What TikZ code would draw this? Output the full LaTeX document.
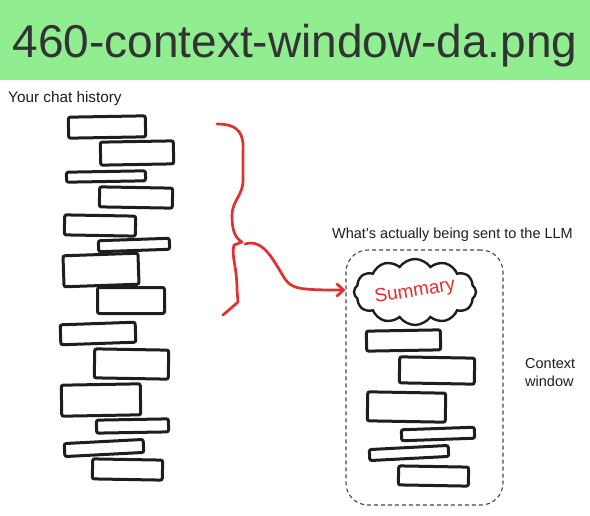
\documentclass[tikz,border=0pt]{standalone}
\usepackage{fontspec}
\setmainfont{Liberation Sans}
\usetikzlibrary{shapes.symbols,arrows.meta,calc}
\definecolor{banner}{RGB}{144,238,144}
\definecolor{titletext}{RGB}{51,51,51}
\definecolor{ink}{RGB}{30,30,30}
\definecolor{exred}{RGB}{224,49,49}
\definecolor{dashc}{RGB}{60,72,90}
\begin{document}
\begin{tikzpicture}[x=1pt,y=-1pt,
  msg/.style={draw=ink, line width=3pt, rounded corners=2pt, inner sep=0pt, fill=white},
  lbl/.style={text=ink, inner sep=0pt, font=\fontsize{14.5}{18}\selectfont},
  redline/.style={draw=exred, line width=2.7pt, line cap=round, line join=round}]
\useasboundingbox (0,0) rectangle (590,515);
\fill[white] (0,0) rectangle (590,515);
\fill[banner] (0,0) rectangle (590,80);
\node[anchor=base, text=titletext, inner sep=0pt, font=\fontsize{46}{46}\selectfont] (title) at (295,57) {460-context-window-da.png};

% left stack
\node[lbl, anchor=base west, font=\fontsize{15.3}{18}\selectfont] (hist) at (8,102) {Your chat history};
\node[msg, minimum width=77pt, minimum height=21pt, rotate=1] (l1) at (107,127) {};
\node[msg, minimum width=73pt, minimum height=23pt, rotate=1] (l2) at (137,153) {};
\node[msg, minimum width=79pt, minimum height=10pt, rotate=1] (l3) at (106,176.5) {};
\node[msg, minimum width=73pt, minimum height=20pt, rotate=-1] (l4) at (136,197.5) {};
\node[msg, minimum width=71pt, minimum height=20pt, rotate=-1] (l5) at (100,225.5) {};
\node[msg, minimum width=71pt, minimum height=11pt, rotate=2] (l6) at (134,245) {};
\node[msg, minimum width=75pt, minimum height=31pt, rotate=2] (l7) at (101,270) {};
\node[msg, minimum width=67pt, minimum height=26pt] (l8) at (131,300.5) {};
\node[msg, minimum width=75pt, minimum height=20pt, rotate=2] (l9) at (98,333.5) {};
\node[msg, minimum width=74pt, minimum height=29pt, rotate=-1] (l10) at (131.5,364) {};
\node[msg, minimum width=79pt, minimum height=31pt, rotate=1] (l11) at (101,400) {};
\node[msg, minimum width=72pt, minimum height=13pt, rotate=1] (l12) at (132.5,426) {};
\node[msg, minimum width=79pt, minimum height=13pt, rotate=3] (l13) at (104,448) {};
\node[msg, minimum width=70pt, minimum height=20pt, rotate=-1] (l14) at (127.5,469.5) {};

% brace
\draw[redline] (217,124) .. controls (240,124) and (244,135) .. (243,152) -- (243,180)
  .. controls (243,196) and (232,200) .. (232,216) .. controls (232,230) and (235,238) .. (242,242)
  -- (234,245) .. controls (231,256) and (237,266) .. (237,290) -- (238,302) -- (223,315);

% container
\node[lbl, anchor=base] (sent) at (452.5,238) {What’s actually being sent to the LLM};
\node[draw=dashc, dash pattern=on 4pt off 3pt, rounded corners=22pt, line width=1.1pt,
  minimum width=157pt, minimum height=255pt, inner sep=0pt] (ctx) at (424.5,377.5) {};
\node[lbl, anchor=north west, align=left] (ctxl) at (525,358) {Context\\window};

% arrow
\coordinate (bt) at (245,244);
\coordinate (ay) at (0,290);
\draw[redline, -{Straight Barb[length=7pt,width=13pt,line width=2.7pt]}] (bt)
  .. controls (264,238) and (274,262) .. (285,279)
  .. controls (292,289) and (300,290) .. (ctx.west |- ay);

% cloud with summary
\node[cloud, draw=ink, line width=2.4pt, cloud puffs=12, cloud puff arc=110, cloud ignores aspect,
  minimum width=122pt, minimum height=66pt, inner sep=-20pt, fill=white,
  text=exred, font=\fontsize{19}{19}\selectfont] (cl) at (415,292) {\rotatebox{9}{Summary}};

% right stack
\node[msg, minimum width=74pt, minimum height=20pt, rotate=1] (r1) at (403.5,340.5) {};
\node[msg, minimum width=75pt, minimum height=26pt, rotate=-1] (r2) at (437,370.5) {};
\node[msg, minimum width=78pt, minimum height=29pt, rotate=-1] (r3) at (406.5,407) {};
\node[msg, minimum width=73pt, minimum height=11pt, rotate=2] (r4) at (438,434) {};
\node[msg, minimum width=79pt, minimum height=11pt, rotate=3] (r5) at (409,453) {};
\node[msg, minimum width=70pt, minimum height=19pt, rotate=-1] (r6) at (433.5,476) {};
\end{tikzpicture}
\end{document}
